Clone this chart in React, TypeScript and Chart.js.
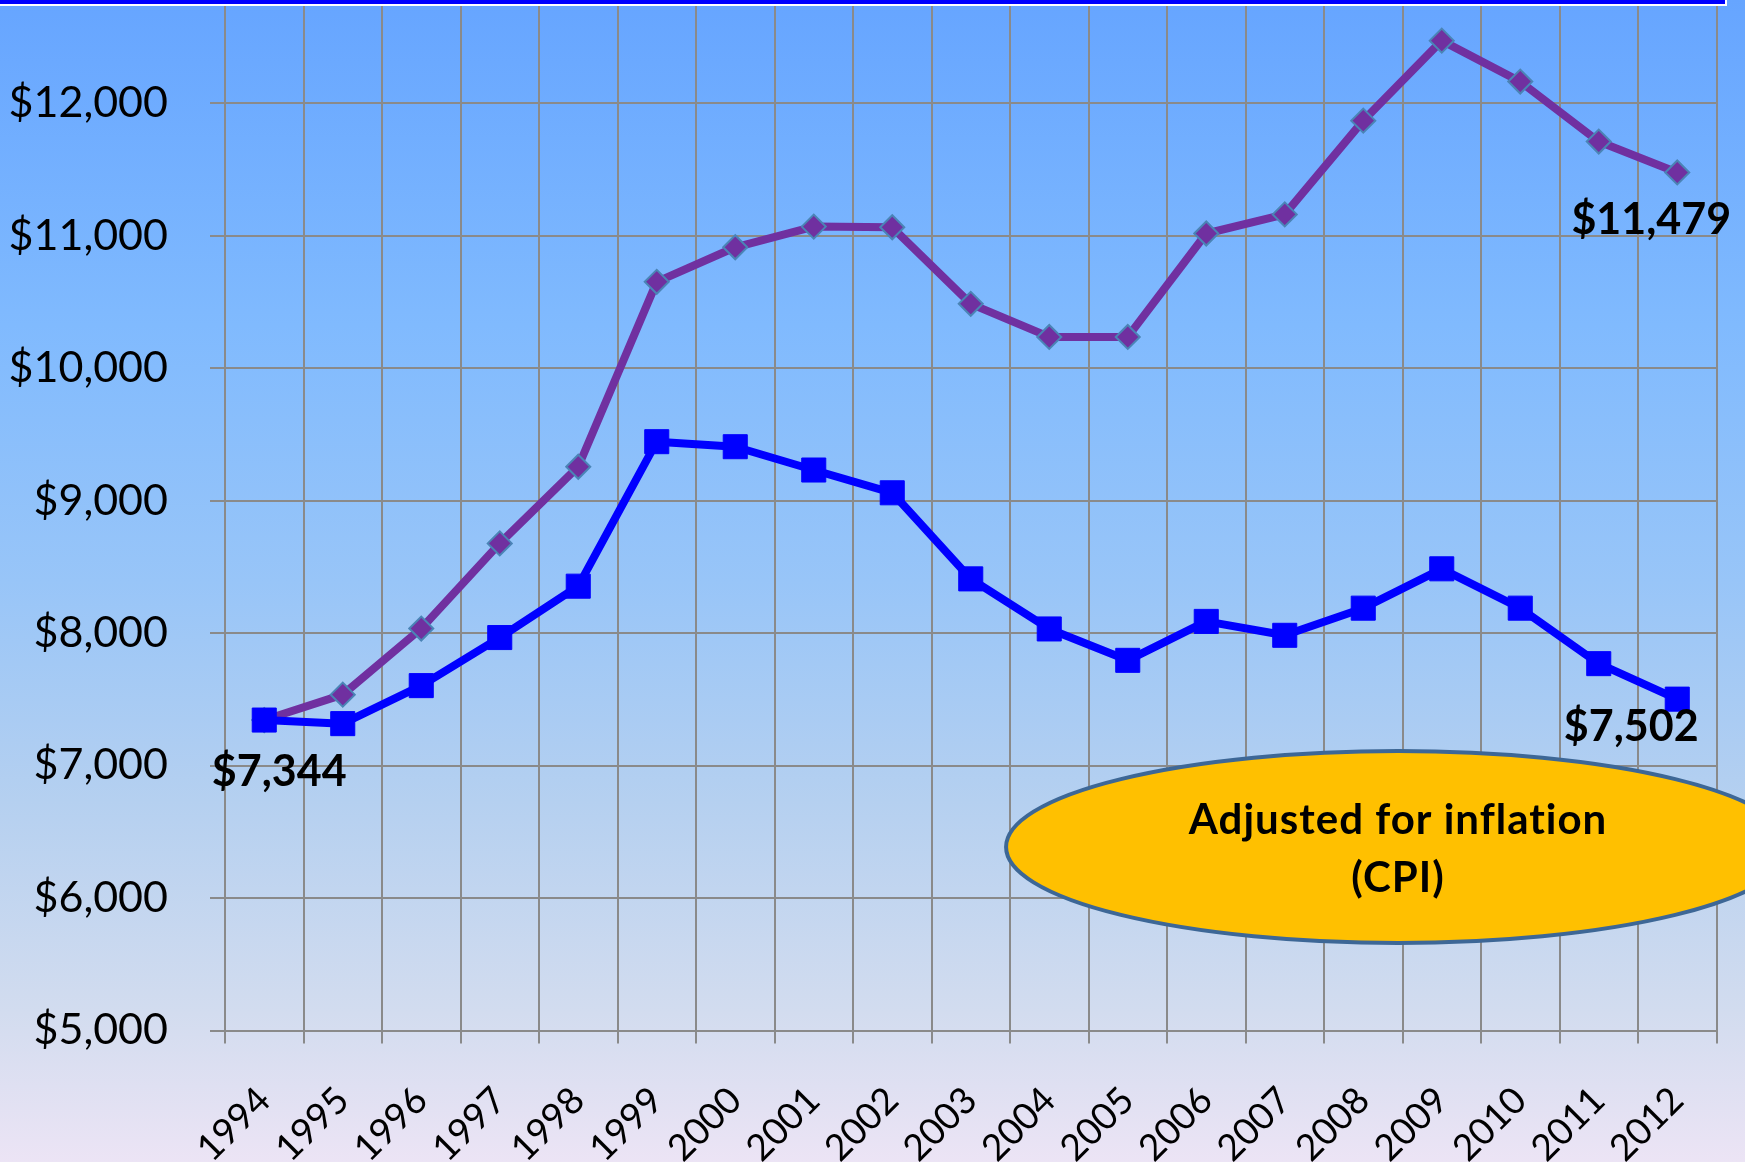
import React, { useEffect, useRef } from 'react';
import { Chart, registerables } from 'chart.js';

Chart.register(...registerables);

// ---- data ----
const years = ['1994', '1995', '1996', '1997', '1998', '1999', '2000', '2001', '2002', '2003', '2004', '2005', '2006', '2007', '2008', '2009', '2010', '2011', '2012'];
const nominalCost = [7344, 7317, 7604, 7967, 8355, 9446, 9408, 9232, 9060, 8410, 8032, 7795, 8089, 7984, 8189, 8486, 8189, 7770, 7502];
const inflationAdjusted = [7344, 7536, 8035, 8678, 9257, 10653, 10914, 11070, 11065, 10487, 10237, 10237, 11018, 11162, 11870, 12474, 12165, 11712, 11479];
const yTickValues = [5000, 6000, 7000, 8000, 9000, 10000, 11000, 12000];
const yMin = 5000;
const yMax = 12781;
const calloutLines = ['Adjusted for inflation', '(CPI)'];

const fmt = (v: number) => '$' + v.toLocaleString('en-US');

const W = 1745;
const H = 1162;

const labelPlugin = {
  id: 'endLabels',
  afterDatasetsDraw(chart: any) {
    const ctx = chart.ctx;
    ctx.save();
    ctx.fillStyle = '#000';
    ctx.font = 'bold 43px Lato';
    ctx.textAlign = 'center';
    ctx.textBaseline = 'alphabetic';
    const m0 = chart.getDatasetMeta(0).data;
    const m1 = chart.getDatasetMeta(1).data;
    const last = years.length - 1;
    ctx.fillText(fmt(nominalCost[0]), m0[0].x + 15, m0[0].y + 66);
    ctx.fillText(fmt(nominalCost[last]), m0[last].x - 46, m0[last].y + 42);
    ctx.fillText(fmt(inflationAdjusted[last]), m1[last].x - 26, m1[last].y + 62);
    ctx.restore();
  },
  afterDraw(chart: any) {
    const ctx = chart.ctx;
    const area = chart.chartArea;
    const cx = area.left + (area.right - area.left) * 0.7865;
    const cy = 847;
    ctx.save();
    ctx.beginPath();
    ctx.ellipse(cx, cy, 392, 96, 0, 0, Math.PI * 2);
    ctx.fillStyle = '#FFC000';
    ctx.fill();
    ctx.lineWidth = 4;
    ctx.strokeStyle = '#3D6796';
    ctx.stroke();
    ctx.fillStyle = '#000';
    ctx.font = 'bold 42px Lato';
    try { (ctx as any).letterSpacing = '1px'; } catch (e) { /* ignore */ }
    ctx.textAlign = 'center';
    ctx.textBaseline = 'alphabetic';
    ctx.fillText(calloutLines[0], cx, 834);
    ctx.fillText(calloutLines[1], cx, 892);
    ctx.restore();
  },
};

export default function App() {
  const ref = useRef<HTMLCanvasElement | null>(null);

  useEffect(() => {
    document.body.style.margin = '0';
    if (!ref.current) return;
    const chart = new Chart(ref.current, {
      type: 'line',
      data: {
        labels: years,
        datasets: [
          {
            label: 'Nominal',
            data: nominalCost,
            borderColor: '#0000FF',
            backgroundColor: '#0000FF',
            borderWidth: 8,
            borderJoinStyle: 'round',
            pointStyle: 'rect',
            pointRadius: 17,
            pointHoverRadius: 17,
            pointBackgroundColor: '#0000FF',
            pointBorderColor: '#0000FF',
            pointBorderWidth: 1,
            tension: 0,
          },
          {
            label: 'Adjusted for inflation',
            data: inflationAdjusted,
            borderColor: '#7030A0',
            backgroundColor: '#7030A0',
            borderWidth: 8,
            borderJoinStyle: 'round',
            pointStyle: 'rectRot',
            pointRadius: 12,
            pointHoverRadius: 12,
            pointBackgroundColor: '#7030A0',
            pointBorderColor: '#4A84B6',
            pointBorderWidth: 2,
            tension: 0,
          },
        ],
      },
      options: {
        responsive: false,
        devicePixelRatio: 1,
        animation: false,
        layout: { autoPadding: false, padding: { left: 0, top: 0, right: 28.5, bottom: 0 } },
        plugins: {
          legend: { display: false },
          tooltip: { enabled: false },
          title: { display: false },
        },
        scales: {
          x: {
            type: 'category',
            offset: true,
            grid: {
              offset: true,
              color: '#8A8A8A',
              lineWidth: 2,
              tickLength: 13,
              drawOnChartArea: true,
            },
            border: { color: '#8A8A8A', width: 2 },
            ticks: {
              color: '#000',
              font: { family: 'Lato', size: 37 },
              minRotation: 45,
              maxRotation: 45,
              autoSkip: false,
              padding: 35,
            },
            afterFit: (s: any) => {
              s.height = 131.5;
              s.paddingLeft = 0;
              s.paddingRight = 0;
            },
          },
          y: {
            min: yMin,
            max: yMax,
            grid: {
              color: '#8A8A8A',
              lineWidth: 2,
              tickLength: 15,
            },
            border: { color: '#8A8A8A', width: 2 },
            ticks: {
              autoSkip: false,
              color: '#000',
              font: { family: 'Lato', size: 43 },
              padding: 42,
              callback: (v: any) => fmt(Number(v)),
            },
            afterBuildTicks: (s: any) => {
              s.ticks = yTickValues.map((value) => ({ value }));
            },
            afterFit: (s: any) => {
              s.width = 225;
              s.paddingTop = 0;
              s.paddingBottom = 0;
            },
          },
        },
      },
      plugins: [labelPlugin],
    });
    return () => chart.destroy();
  }, []);

  return (
    <div
      style={{
        position: 'fixed',
        left: 0,
        top: 0,
        width: W,
        height: H,
        overflow: 'hidden',
        background:
          'linear-gradient(to bottom, #66A5FF 0%, #80BAFE 28%, #98C5F8 50%, #B5D0F0 69%, #D2DCEF 87%, #ECE4F5 100%)',
      }}
    >
      <canvas ref={ref} width={W} height={H} style={{ display: 'block', width: W, height: H }} />
      <div style={{ position: 'absolute', left: 0, top: 0, width: 1727, height: 6, background: '#FFFFFF' }} />
      <div style={{ position: 'absolute', left: 0, top: 0, width: 1725, height: 4, background: '#0000FF' }} />
    </div>
  );
}
